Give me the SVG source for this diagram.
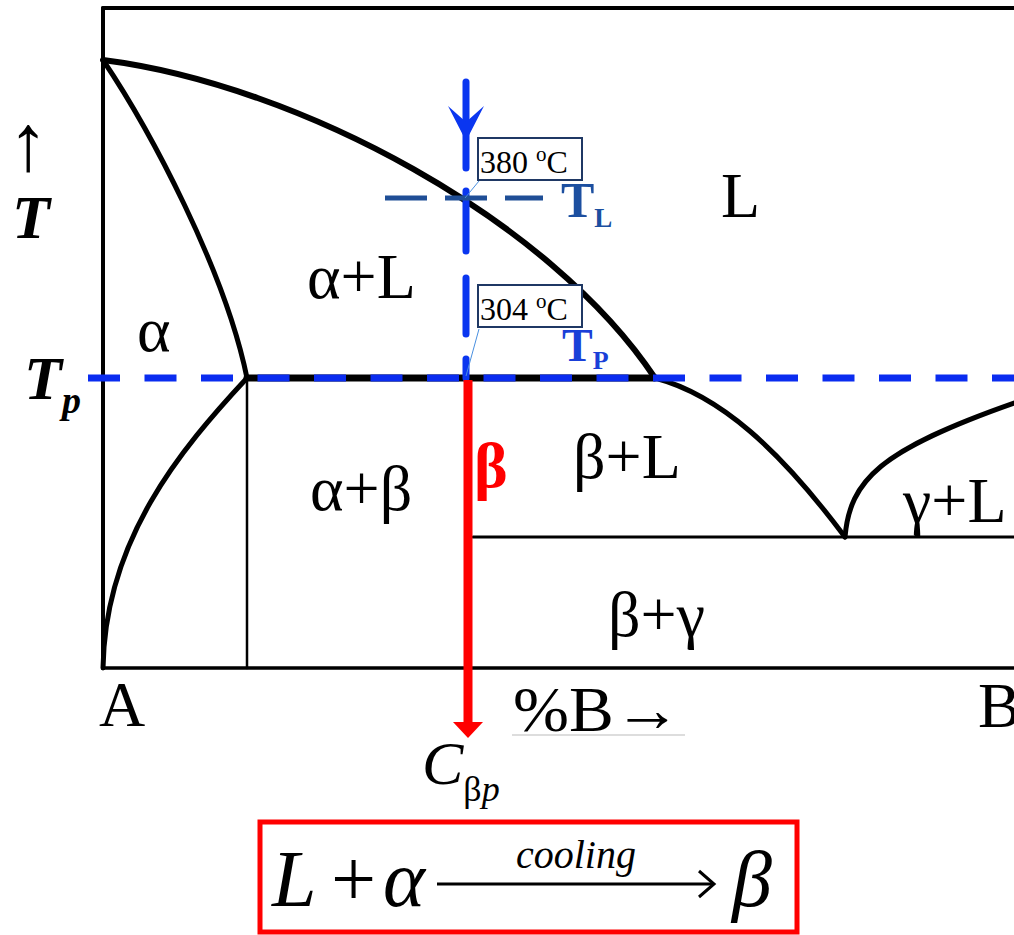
<svg xmlns="http://www.w3.org/2000/svg" width="1014" height="935" viewBox="0 0 1014 935">
<style>
.t{font-family:"Liberation Serif","Times New Roman",serif;fill:#000}
.reg{font-size:64px}
.ln{fill:none;stroke:#000;stroke-linecap:round}
.bl{fill:none;stroke:#0a36f0;stroke-width:7;stroke-linecap:round}
.box{fill:#fff;stroke:#1f3864;stroke-width:2}
.lead{stroke:#4a90e0;stroke-width:1}
</style>
<rect width="1014" height="935" fill="#fff"/>
<g id="frame">
<line class="ln" x1="103" y1="8" x2="1014" y2="8" stroke-width="4"/>
<line class="ln" x1="103" y1="8" x2="103" y2="668" stroke-width="4"/>
<line class="ln" x1="103" y1="668" x2="1014" y2="668" stroke-width="3.5"/>
</g>
<g id="connectors">
<path class="ln" stroke-width="6" d="M103,60 C300,85 550,220 655,378"/>
<path class="ln" stroke-width="5" d="M103,60 C150,130 225,270 247,378"/>
<path class="ln" stroke-width="5" d="M247,378 C180,450 105,540 103,668"/>
<line class="ln" x1="247" y1="378" x2="247" y2="668" stroke-width="2.5"/>
<line class="ln" x1="247" y1="378" x2="655" y2="378" stroke-width="7"/>
<path class="ln" stroke-width="5" d="M655,378 C720,395 780,450 845,537"/>
<path class="ln" stroke-width="5" d="M845,537 C850,480 880,450 1014,403"/>
<line class="ln" x1="473" y1="537" x2="1014" y2="537" stroke-width="3"/>
<line x1="88" y1="378" x2="1014" y2="378" stroke="#0a2cf0" stroke-width="7" stroke-dasharray="32 24.5"/>
<g id="blue-arrow">
<line class="bl" x1="466" y1="82" x2="466" y2="168"/>
<path d="M448,106 L466,141 L484,106 L466,122 Z" fill="#0a36f0"/>
<line class="bl" x1="466" y1="191" x2="466" y2="251"/>
<line class="bl" x1="466" y1="278" x2="466" y2="334"/>
<line class="bl" x1="466" y1="359" x2="466" y2="378"/>
</g>
<line x1="385" y1="198" x2="543" y2="198" stroke="#1f4e96" stroke-width="5" stroke-dasharray="42 18"/>
<line class="lead" x1="479" y1="181" x2="465" y2="198"/>
<line class="lead" x1="479" y1="329" x2="466" y2="376"/>
<g id="red-arrow">
<line x1="468" y1="380" x2="468" y2="724" stroke="#ff0000" stroke-width="9"/>
<path d="M453,722 L483,722 L468,738 Z" fill="#ff0000"/>
</g>
<line x1="512" y1="735" x2="685" y2="735" stroke="#bbb" stroke-width="1"/>
</g>
<g id="box-380">
<rect class="box" x="478" y="138" width="104" height="42"/>
<text class="t" x="480" y="173" font-size="32">380 <tspan font-size="21" dy="-12">o</tspan><tspan dy="12">C</tspan></text>
</g>
<g id="box-304">
<rect class="box" x="478" y="285" width="104" height="42"/>
<text class="t" x="480" y="320" font-size="32">304 <tspan font-size="21" dy="-12">o</tspan><tspan dy="12">C</tspan></text>
</g>
<g id="TL"><text class="t" x="561" y="217" font-size="50" font-weight="bold" style="fill:#1c4fa0">T<tspan font-size="27" dy="10">L</tspan></text></g>
<g id="TP"><text class="t" x="562" y="361" font-size="46" font-weight="bold" style="fill:#1a3fd8">T<tspan font-size="26" dy="8">P</tspan></text></g>
<g id="labels">
<text class="t reg" x="721" y="217">L</text>
<text class="t reg" x="307" y="298">α+L</text>
<text class="t reg" x="137" y="351">α</text>
<text class="t reg" x="310" y="510">α+β</text>
<text class="t reg" x="474" y="487" font-weight="bold" style="fill:#ff0000">β</text>
<text class="t reg" x="573" y="478">β+L</text>
<text class="t reg" x="903" y="522">γ+L</text>
<text class="t reg" x="608" y="636">β+γ</text>
<text class="t reg" x="99" y="726">A</text>
<text class="t reg" x="978" y="727">B</text>
<text class="t reg" x="513" y="731" textLength="168" lengthAdjust="spacingAndGlyphs">%B→</text>
<text class="t" x="8" y="170" font-size="80">↑</text>
<text class="t" x="12" y="238" font-size="62" font-style="italic" font-weight="bold">T</text>
<text class="t" x="24" y="399" font-size="62" font-style="italic" font-weight="bold">T<tspan font-size="38" dy="14">p</tspan></text>
<text class="t" x="422" y="784" font-size="62" font-style="italic">C<tspan font-size="36" font-style="normal" dy="17">β</tspan><tspan font-size="36">p</tspan></text>
</g>
<g id="equation">
<rect x="260" y="822" width="537" height="110" fill="none" stroke="#ff0000" stroke-width="5"/>
<text class="t" x="272" y="906" font-size="80" font-style="italic">L</text>
<text class="t" x="331" y="906" font-size="80">+</text>
<text class="t" x="383" y="906" font-size="80" font-style="italic">α</text>
<line x1="437" y1="884" x2="712" y2="884" stroke="#000" stroke-width="3"/>
<path d="M699,871 L714,884 L699,897" fill="none" stroke="#000" stroke-width="3"/>
<text class="t" x="516" y="868" font-size="40" font-style="italic">cooling</text>
<text class="t" x="732" y="906" font-size="80" font-style="italic">β</text>
</g>
</svg>
